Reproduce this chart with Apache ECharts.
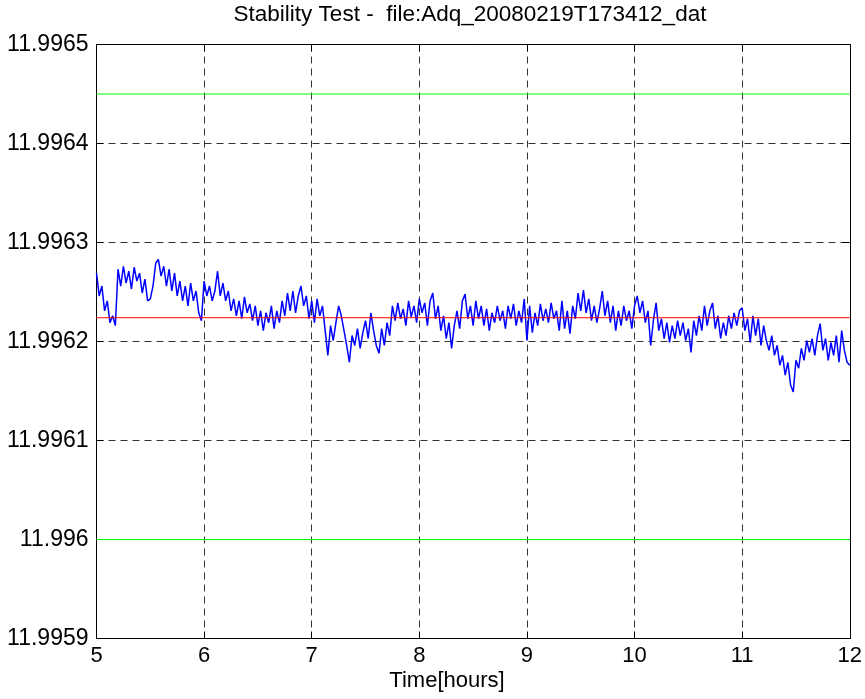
<!DOCTYPE html>
<html>
<head>
<meta charset="utf-8">
<script src="https://cdn.jsdelivr.net/npm/echarts@6/dist/echarts.min.js"></script>
<style>html,body{margin:0;padding:0;background:#fff;}#c{width:865px;height:699px;}</style>
</head>
<body>
<div id="c"></div>
<script>
const titleText = 'Stability Test -  file:Adq_20080219T173412_dat';
const xLabel = 'Time[hours]';
const xTicks = [5, 6, 7, 8, 9, 10, 11, 12];
const yTicks = [11.9959, 11.996, 11.9961, 11.9962, 11.9963, 11.9964, 11.9965];
const tStart = 5;
const tEnd = 12;
const upperLimit = 11.99645;
const lowerLimit = 11.996;
const meanLevel = 11.996224;
const signal = [
11.996269,11.996246,11.996256,11.996231,11.996241,11.996219,11.996226,11.996216,11.996273,11.996256,
11.996276,11.996259,11.996271,11.996253,11.996275,11.996261,11.996269,11.996249,11.996263,11.996241,
11.996243,11.996256,11.996279,11.996283,11.996266,11.996276,11.996256,11.996273,11.996251,11.996269,
11.996246,11.996261,11.996241,11.996256,11.996236,11.996259,11.996241,11.996251,11.996229,11.996221,
11.996261,11.996246,11.996256,11.996241,11.996251,11.996271,11.996246,11.996259,11.996241,11.996251,
11.996231,11.996243,11.996226,11.996241,11.996223,11.996245,11.996229,11.996238,11.996221,11.996236,
11.996216,11.996231,11.996211,11.996229,11.996219,11.996236,11.996213,11.996231,11.996219,11.996241,
11.996226,11.996249,11.996231,11.996251,11.996229,11.996246,11.996256,11.996236,11.996246,11.996223,
11.996241,11.996219,11.996243,11.996226,11.996236,11.996211,11.996186,11.996216,11.996201,11.996219,
11.996236,11.996226,11.996211,11.996196,11.996179,11.996206,11.996196,11.996213,11.996193,11.996209,
11.996221,11.996203,11.996229,11.996211,11.996196,11.996188,11.996213,11.996196,11.996219,11.996206,
11.996236,11.996221,11.996239,11.996223,11.996233,11.996216,11.996241,11.996225,11.996236,11.996219,
11.996243,11.996229,11.996239,11.996216,11.996241,11.996249,11.996223,11.996236,11.996211,11.996226,
11.996203,11.996219,11.996193,11.996216,11.996231,11.996213,11.996241,11.996248,11.996223,11.996236,
11.996216,11.996241,11.996223,11.996236,11.996216,11.996233,11.996211,11.996229,11.996219,11.996236,
11.996221,11.996231,11.996213,11.996236,11.996223,11.996238,11.996216,11.996231,11.996219,11.996243,
11.996201,11.996236,11.996209,11.996229,11.996216,11.996238,11.996221,11.996233,11.996219,11.996239,
11.996223,11.996231,11.996211,11.996241,11.996213,11.996231,11.996208,11.996236,11.996223,11.996249,
11.996231,11.996252,11.996229,11.996243,11.996221,11.996236,11.996219,11.996233,11.996251,11.996226,
11.996241,11.996219,11.996236,11.996211,11.996231,11.996216,11.996236,11.996221,11.996231,11.996213,
11.996236,11.996246,11.996229,11.996241,11.996219,11.996231,11.996196,11.996221,11.996239,11.996211,
11.996223,11.996203,11.996219,11.996199,11.996216,11.996203,11.996221,11.996206,11.996219,11.996201,
11.996213,11.996189,11.996221,11.996206,11.996226,11.996211,11.996236,11.996216,11.996231,11.996239,
11.996213,11.996226,11.996203,11.996219,11.996206,11.996226,11.996213,11.996229,11.996216,11.996231,
11.996234,11.996211,11.996223,11.996199,11.996226,11.996206,11.996223,11.996196,11.996216,11.996201,
11.996191,11.996206,11.996186,11.996196,11.996176,11.996186,11.996166,11.996179,11.996156,11.996149,
11.996181,11.996173,11.996193,11.996181,11.996201,11.996189,11.996203,11.996186,11.996206,11.996218,
11.996191,11.996203,11.996181,11.996199,11.996186,11.996206,11.996179,11.996211,11.996191,11.996179,
11.996176
];

const n = signal.length;
const signalData = signal.map((v, i) => [tStart + (tEnd - tStart) * i / (n - 1), v]);

const fontFamily = '"Liberation Sans", Arial, sans-serif';
const fmtY = v => parseFloat(v.toFixed(4)).toString();

const chart = echarts.init(document.getElementById('c'), null, {renderer: 'canvas'});
const axisLine = {show: true, lineStyle: {color: '#000', width: 1}};
const tick = {show: true, inside: true, length: 7, lineStyle: {color: '#000', width: 1}};
const split = {show: true, lineStyle: {color: '#333', width: 1, type: [7, 5]}};

chart.setOption({
  backgroundColor: '#fff',
  animation: false,
  grid: {left: 96.5, right: 14.5, top: 44.5, bottom: 60.5, containLabel: false},
  xAxis: [
    {type: 'value', min: tStart, max: tEnd, interval: 1, position: 'bottom',
     axisLine: axisLine, axisTick: tick, splitLine: split,
     axisLabel: {color: '#000', fontSize: 22, fontFamily: fontFamily, margin: 6}},
    {type: 'value', min: tStart, max: tEnd, interval: 1, position: 'top',
     axisLine: axisLine, axisTick: tick, splitLine: {show: false}, axisLabel: {show: false}}
  ],
  yAxis: [
    {type: 'value', min: yTicks[0], max: yTicks[yTicks.length - 1], interval: 0.0001, position: 'left',
     axisLine: axisLine, axisTick: tick, splitLine: split,
     axisLabel: {color: '#000', fontSize: 23, fontFamily: fontFamily, margin: 8, formatter: fmtY}},
    {type: 'value', min: yTicks[0], max: yTicks[yTicks.length - 1], interval: 0.0001, position: 'right',
     axisLine: axisLine, axisTick: tick, splitLine: {show: false}, axisLabel: {show: false}}
  ],
  graphic: [
    {type: 'text', x: 470, y: 3, style: {text: titleText, fill: '#000', font: '22.5px ' + fontFamily, textAlign: 'center'}},
    {type: 'text', x: 447, y: 670, style: {text: xLabel, fill: '#000', font: '22px ' + fontFamily, textAlign: 'center'}}
  ],
  series: [
    {type: 'line', data: signalData, showSymbol: false, symbol: 'none', lineStyle: {color: '#0000ff', width: 1.5}, z: 2},
    {type: 'line', data: [[tStart, meanLevel], [tEnd, meanLevel]], symbol: 'none', lineStyle: {color: '#ff0000', width: 1}, z: 3},
    {type: 'line', data: [[tStart, upperLimit], [tEnd, upperLimit]], symbol: 'none', lineStyle: {color: '#00ff00', width: 1}, z: 3},
    {type: 'line', data: [[tStart, lowerLimit], [tEnd, lowerLimit]], symbol: 'none', lineStyle: {color: '#00ff00', width: 1}, z: 3}
  ]
});
</script>
</body>
</html>
